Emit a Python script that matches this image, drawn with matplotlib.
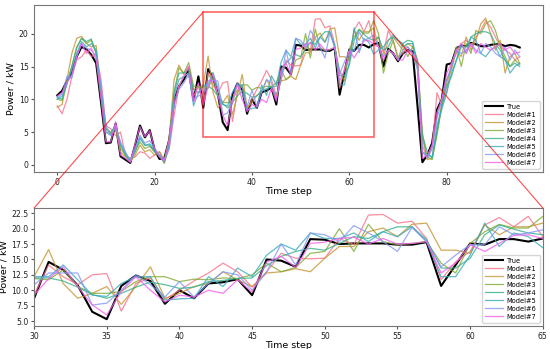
import matplotlib
matplotlib.use("Agg")
import matplotlib.pyplot as plt
import numpy as np
import seaborn as sns
from matplotlib.patches import Rectangle, ConnectionPatch

time_steps = list(range(96))

true_vals = [10.6, 11.3, 12.8, 14.0, 16.5, 18.0, 17.6, 16.8, 15.5, 9.5,
             3.3, 3.4, 6.3, 1.3, 0.8, 0.3, 3.0, 6.0, 4.2, 5.3,
             2.3, 0.9, 1.0, 3.8, 9.7, 12.0, 13.0, 14.5, 9.9, 13.5,
             8.7, 14.6, 13.3, 10.8, 6.5, 5.3, 10.7, 12.4, 11.5, 7.8,
             10.0, 8.7, 11.1, 11.3, 11.8, 9.2, 15.0, 14.8, 13.8, 18.3,
             18.2, 17.5, 17.6, 17.6, 17.6, 17.4, 17.4, 17.8, 10.7, 14.1,
             17.6, 17.4, 18.3, 18.3, 17.9, 18.4, 18.6, 15.0, 17.7, 17.0,
             15.8, 17.0, 17.5, 17.3, 9.0, 0.4, 1.5, 3.3, 8.4, 10.0,
             15.3, 15.5, 17.8, 18.2, 18.1, 18.6, 18.4, 18.1, 18.1, 18.3,
             18.4, 18.4, 18.1, 18.3, 18.2, 17.9]

model1 = [9.0, 7.8, 10.0, 13.5, 16.0, 16.5, 17.5, 16.5, 17.0, 13.0,
          6.0, 5.5, 4.5, 5.0, 1.5, 1.0, 1.2, 2.0, 1.8, 1.0,
          1.5, 2.0, 0.5, 2.5, 7.5, 12.0, 13.5, 14.0, 10.5, 12.0,
          9.2, 14.1, 12.2, 10.9, 12.5, 12.7, 6.6, 11.1, 12.0, 8.5,
          10.0, 11.5, 12.8, 14.4, 13.0, 10.5, 13.0, 16.0, 15.2, 15.1,
          15.2, 18.4, 17.4, 22.2, 22.3, 20.9, 21.2, 18.4, 11.7, 14.6,
          16.3, 20.6, 21.8, 20.3, 22.0, 18.7, 19.5, 17.0, 20.5, 19.0,
          16.5, 17.0, 18.0, 17.0, 15.0, 3.0, 1.0, 2.5, 11.0, 9.0,
          11.0, 15.5, 17.0, 18.5, 19.0, 18.0, 19.5, 20.5, 22.0, 21.0,
          19.5, 18.0, 17.5, 17.0, 16.0, 16.5]

model2 = [8.8, 9.2, 13.0, 17.0, 19.3, 19.6, 18.5, 18.0, 18.2, 11.0,
          5.0, 4.8, 5.5, 2.0, 1.2, 0.5, 1.5, 3.0, 2.0, 2.3,
          1.5, 2.0, 0.8, 4.0, 13.0, 15.2, 13.8, 15.0, 11.5, 11.8,
          12.2, 16.6, 11.1, 8.7, 9.5, 10.6, 7.7, 10.6, 13.8, 8.7,
          9.5, 10.6, 11.1, 13.0, 11.7, 10.6, 12.8, 13.0, 13.5, 13.0,
          15.2, 17.1, 17.1, 19.5, 20.1, 18.7, 20.7, 20.9, 16.5, 16.5,
          16.0, 20.6, 19.0, 20.3, 20.3, 20.9, 18.0, 16.5, 19.0, 19.5,
          18.5, 17.5, 18.5, 18.0, 16.0, 5.0, 0.8, 1.0, 5.0, 9.5,
          13.0, 14.5, 17.5, 16.5, 19.5, 17.5, 19.0, 21.5, 22.4, 20.0,
          17.5, 19.0, 14.0, 16.5, 17.0, 15.5]

model3 = [10.0, 9.8, 12.5, 15.0, 18.0, 19.3, 18.5, 19.0, 17.0, 10.5,
          5.5, 5.0, 5.8, 2.5, 1.5, 0.8, 2.0, 3.5, 2.5, 2.8,
          2.0, 1.5, 0.2, 3.5, 11.0, 14.8, 14.0, 15.6, 12.0, 11.8,
          11.9, 11.7, 13.3, 10.6, 9.5, 9.5, 9.8, 11.4, 12.2, 12.2,
          11.4, 11.8, 11.7, 12.0, 11.9, 12.5, 14.4, 13.0, 13.7, 16.0,
          16.3, 20.0, 16.3, 20.7, 17.9, 17.4, 17.6, 17.9, 14.4, 12.8,
          17.6, 19.5, 20.7, 20.1, 20.1, 22.0, 20.0, 14.0, 17.0, 19.0,
          16.0, 18.5, 16.5, 18.0, 16.0, 4.0, 1.2, 0.8, 4.5, 9.0,
          12.5, 15.0, 18.0, 15.0, 18.5, 17.0, 20.5, 20.0, 21.5, 22.0,
          20.5, 18.0, 16.5, 15.0, 16.0, 15.3]

model4 = [10.3, 10.0, 12.3, 15.0, 17.8, 19.3, 18.8, 19.2, 17.0, 11.0,
          5.5, 4.8, 6.2, 3.0, 1.5, 0.5, 2.0, 4.0, 3.0, 3.0,
          2.0, 1.3, 0.5, 3.5, 11.0, 14.0, 14.0, 14.5, 11.5, 11.0,
          12.0, 12.0, 11.5, 10.5, 9.3, 8.7, 9.5, 10.5, 11.3, 10.9,
          10.3, 10.5, 11.4, 11.6, 11.9, 12.0, 14.0, 15.5, 16.3, 16.8,
          16.5, 17.6, 18.7, 18.4, 19.5, 20.3, 20.3, 18.2, 13.6, 13.6,
          15.2, 19.0, 20.6, 19.9, 19.3, 19.0, 19.5, 17.5, 18.0, 19.5,
          19.0, 18.5, 19.0, 18.8, 15.5, 4.5, 2.0, 1.0, 5.0, 9.0,
          12.0, 13.5, 16.0, 18.0, 18.0, 19.5, 20.0, 20.3, 20.3, 20.0,
          18.5, 17.5, 16.0, 15.0, 15.5, 15.0]

model5 = [10.0, 10.5, 12.5, 14.5, 17.0, 18.8, 18.0, 18.5, 17.5, 11.5,
          5.0, 4.5, 6.0, 3.2, 1.8, 0.6, 2.5, 4.2, 3.0, 3.2,
          2.2, 1.5, 0.4, 3.0, 10.5, 13.0, 13.5, 14.0, 9.0, 11.0,
          12.2, 12.2, 14.1, 11.7, 9.2, 9.0, 11.1, 12.2, 12.2, 8.4,
          8.6, 8.7, 12.2, 10.6, 13.6, 12.2, 15.7, 17.5, 16.5, 19.3,
          18.4, 18.4, 19.3, 17.9, 19.5, 18.7, 20.3, 17.9, 12.2, 12.2,
          15.7, 20.9, 17.1, 19.3, 18.7, 16.9, 17.5, 18.0, 19.0, 19.8,
          19.0, 18.0, 18.5, 18.5, 15.0, 2.0, 1.5, 1.2, 6.0, 8.5,
          11.0, 14.0, 16.0, 18.5, 17.0, 19.5, 19.0, 17.0, 16.5, 17.5,
          18.0, 16.5, 16.0, 14.0, 15.0, 15.5]

model6 = [10.2, 10.8, 13.5, 13.2, 16.5, 18.5, 17.8, 17.5, 16.5, 12.0,
          6.0, 4.5, 5.8, 3.5, 2.0, 0.6, 2.5, 4.5, 3.3, 3.7,
          2.5, 1.5, 0.8, 2.5, 9.0, 11.5, 12.5, 13.8, 10.0, 10.5,
          10.9, 12.8, 12.8, 12.8, 7.6, 7.9, 10.0, 12.5, 10.9, 8.9,
          11.4, 8.9, 11.1, 13.0, 12.5, 10.0, 13.0, 17.5, 14.1, 19.3,
          19.0, 17.9, 20.5, 19.3, 17.9, 16.3, 20.2, 17.9, 13.8, 15.7,
          17.4, 17.4, 20.3, 19.0, 19.3, 19.8, 18.0, 16.5, 17.5, 17.0,
          16.0, 17.5, 18.0, 17.0, 14.5, 2.0, 1.0, 2.5, 7.0, 10.0,
          13.0, 15.0, 17.5, 17.0, 17.5, 18.5, 17.5, 17.0, 18.5, 18.0,
          17.0, 16.5, 18.0, 16.0, 17.5, 16.5]

model7 = [10.5, 11.0, 12.5, 13.8, 16.5, 18.5, 17.0, 17.8, 16.0, 10.0,
          3.5, 3.5, 6.6, 1.5, 1.0, 0.4, 3.2, 5.8, 4.3, 5.2,
          2.5, 1.2, 0.6, 3.8, 9.5, 12.0, 13.5, 15.0, 9.5, 12.5,
          9.2, 11.9, 13.8, 10.6, 7.6, 6.0, 9.8, 12.2, 10.0, 8.1,
          9.2, 8.9, 10.0, 9.5, 11.7, 9.7, 14.6, 15.5, 13.7, 17.6,
          17.8, 18.4, 18.6, 17.5, 18.4, 17.5, 17.6, 17.9, 12.8, 14.4,
          17.4, 16.3, 17.6, 18.9, 19.0, 18.4, 18.0, 16.0, 17.5, 17.0,
          16.0, 16.0, 17.5, 17.0, 16.0, 1.0, 1.5, 3.0, 8.0, 10.0,
          14.0, 15.5, 17.5, 18.5, 17.0, 18.5, 17.0, 18.5, 18.0, 17.5,
          18.0, 18.5, 17.5, 18.0, 17.0, 17.2]

model_names = ["Model#1", "Model#2", "Model#3", "Model#4", "Model#5", "Model#6", "Model#7"]
models = [model1, model2, model3, model4, model5, model6, model7]

zoom_x = (30, 65)
zoom_y = (4.2, 23.35)

colors = sns.color_palette("husl", 7)
x = np.array(time_steps)

fig = plt.figure(figsize=(5.5, 3.49), dpi=100)
ax1 = fig.add_axes([0.062, 0.507, 0.925, 0.479])
ax2 = fig.add_axes([0.062, 0.066, 0.925, 0.338])

for ax in (ax1, ax2):
    ax.plot(x, true_vals, color="black", lw=1.5, label="True")
    for name, vals, c in zip(model_names, models, colors):
        ax.plot(x, vals, color=c, lw=0.9, alpha=0.8, label=name)
    ax.set_ylabel("Power / kW", fontsize=6.8, labelpad=2)
    ax.set_xlabel("Time step", fontsize=6.8, labelpad=0.5)
    ax.tick_params(labelsize=5.6, length=2.5, pad=1.5, color="#555555", labelcolor="#222222")
    for s in ax.spines.values():
        s.set_color("#777777")
    ax.legend(loc="lower right", fontsize=4.8, handlelength=2.6, labelspacing=0.3,
              borderpad=0.45, handletextpad=0.6, framealpha=0.8)

ax1.set_xlim(-4.75, 99.75)
ax1.set_ylim(-1.1, 24.4)
ax1.set_xticks([0, 20, 40, 60, 80])
ax1.set_yticks([0, 5, 10, 15, 20])

ax2.set_xlim(*zoom_x)
ax2.set_ylim(*zoom_y)
ax2.set_xticks([30, 35, 40, 45, 50, 55, 60, 65])
ax2.set_yticks([5.0, 7.5, 10.0, 12.5, 15.0, 17.5, 20.0, 22.5])
ax2.yaxis.set_major_formatter(matplotlib.ticker.FormatStrFormatter("%.1f"))

rect = Rectangle((zoom_x[0], zoom_y[0]), zoom_x[1] - zoom_x[0], zoom_y[1] - zoom_y[0],
                 fill=False, edgecolor="red", lw=1.2, alpha=0.6, zorder=5)
ax1.add_patch(rect)

for xa, xf in ((zoom_x[0], 0), (zoom_x[1], 1)):
    con = ConnectionPatch(xyA=(xa, zoom_y[1]), coordsA=ax1.transData,
                          xyB=(xf, 1), coordsB=ax2.transAxes,
                          color="red", lw=0.8, alpha=0.7)
    fig.add_artist(con)

fig.savefig("out.png", dpi=100)
